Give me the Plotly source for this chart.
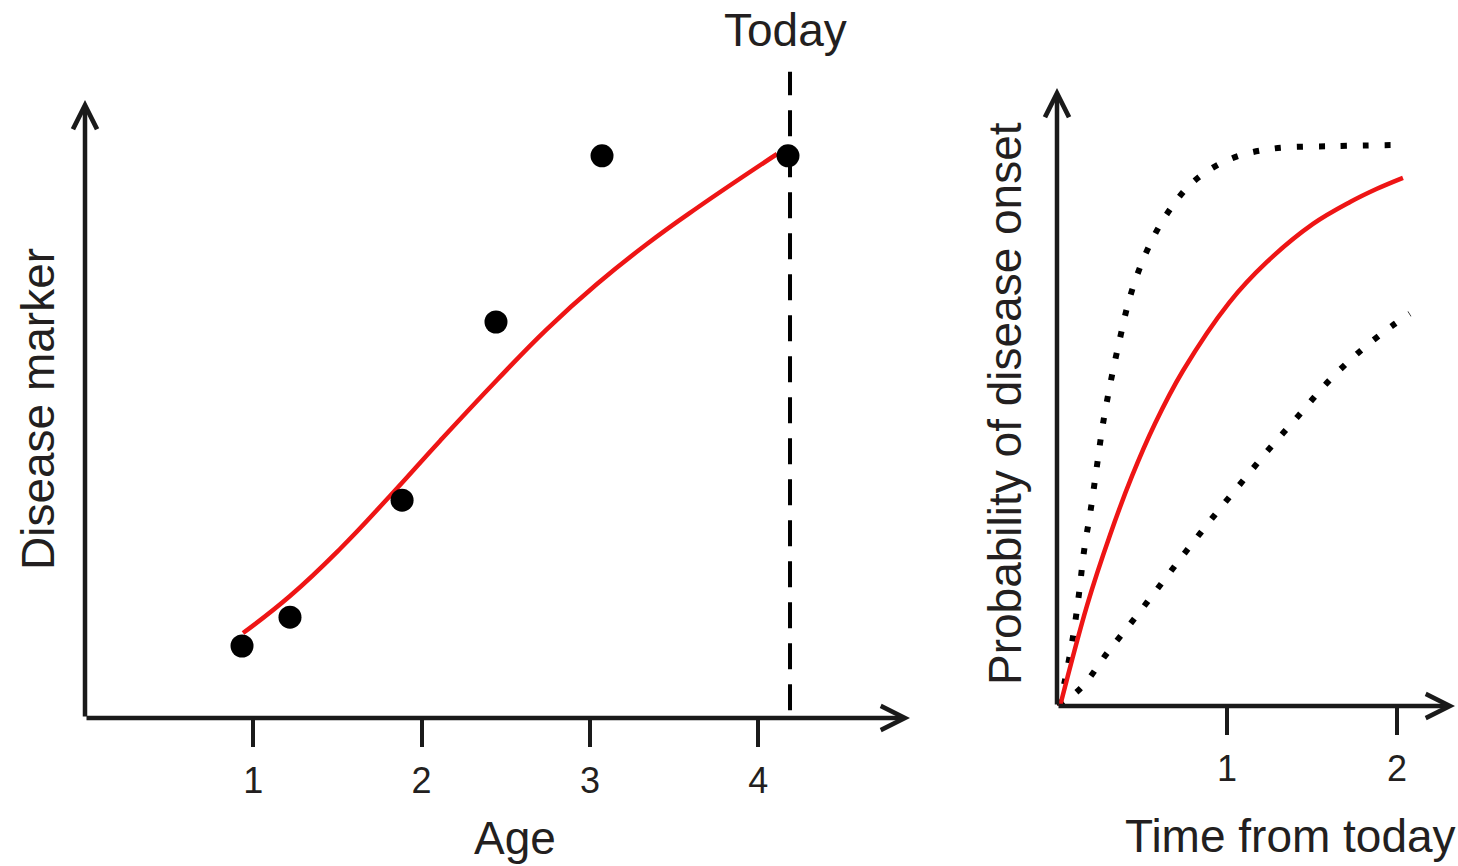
import plotly.graph_objects as go

# ---------------- data: left panel (disease marker vs age) ----------------
age_obs = [0.933, 1.218, 1.884, 2.442, 3.072, 4.177]
marker_obs = [1.20, 1.68, 3.63, 6.60, 9.37, 9.37]

fit_age = [0.939, 1.218, 1.515, 1.812, 2.109, 2.448, 2.745, 3.042, 3.339, 3.636, 4.112]
fit_marker = [1.417, 2.033, 2.817, 3.70, 4.617, 5.633, 6.483, 7.233, 7.90, 8.50, 9.40]

today_age = 4.189
today_span = [0.13, 10.77]
age_ticks = [1, 2, 3, 4]

# ---------------- data: right panel (probability of onset) ----------------
t_mid = [0.018, 0.176, 0.312, 0.441, 0.576, 0.741, 1.012, 1.235, 1.506, 1.724, 1.882, 2.035]
p_mid = [0.0, 0.174, 0.297, 0.399, 0.490, 0.582, 0.700, 0.771, 0.837, 0.875, 0.898, 0.917]

t_up = [0.012, 0.047, 0.094, 0.129, 0.159, 0.2, 0.235, 0.271, 0.318, 0.371, 0.429, 0.518,
        0.635, 0.794, 1.006, 1.253, 1.635, 2.018]
p_up = [0.0, 0.045, 0.12, 0.194, 0.269, 0.344, 0.417, 0.491, 0.566, 0.639, 0.710, 0.783,
        0.849, 0.908, 0.948, 0.967, 0.972, 0.974]

t_low = [0.012, 0.147, 0.3, 0.459, 0.618, 0.771, 0.929, 1.088, 1.253, 1.418, 1.588, 1.771, 1.971, 2.075]
p_low = [0.0, 0.033, 0.094, 0.153, 0.214, 0.273, 0.332, 0.389, 0.448, 0.503, 0.561, 0.613, 0.660, 0.681]

time_ticks = [1, 2]

# ---------------- styling ----------------
W, H = 1458, 866
INK = "#1a1a1a"
TXT = "#231f20"
RED = "#ee1515"
FONT = "Liberation Sans, Arial, sans-serif"

fig = go.Figure()

# left panel
fig.add_trace(go.Scatter(x=fit_age, y=fit_marker, mode="lines",
                         line=dict(color=RED, width=4.5, shape="spline", smoothing=1.3),
                         xaxis="x", yaxis="y", hoverinfo="skip", showlegend=False))
fig.add_trace(go.Scatter(x=[today_age, today_age], y=today_span, mode="lines",
                         line=dict(color="#000000", width=4, dash="26px,15px"),
                         xaxis="x", yaxis="y", hoverinfo="skip", showlegend=False))
fig.add_trace(go.Scatter(x=age_obs, y=marker_obs, mode="markers",
                         marker=dict(color="#000000", size=23, line=dict(width=0)),
                         xaxis="x", yaxis="y", showlegend=False, cliponaxis=False))

# right panel
fig.add_trace(go.Scatter(x=t_up, y=p_up, mode="lines", line=dict(color="#000000", width=6, dash="6px,16px", shape="spline"),
                         xaxis="x2", yaxis="y2", hoverinfo="skip", showlegend=False))
fig.add_trace(go.Scatter(x=t_low, y=p_low, mode="lines", line=dict(color="#000000", width=6, dash="6px,16px", shape="spline"),
                         xaxis="x2", yaxis="y2", hoverinfo="skip", showlegend=False))
fig.add_trace(go.Scatter(x=t_mid, y=p_mid, mode="lines", line=dict(color=RED, width=4.5, shape="spline"),
                         xaxis="x2", yaxis="y2", hoverinfo="skip", showlegend=False))

# pixel geometry -> domains/ranges
L_x0, L_x1 = 85, 930          # px of x-domain (x=0 at 85)
L_ppu_x = 168.3
L_y0, L_y1 = 718, 50           # px bottom/top of y-domain
L_ppu_y = 60.0
R_x0, R_x1 = 1057, 1458
R_ppu_x = 170.0
R_y0, R_y1 = 706, 40
R_ppu_y = 576.0

axis_common = dict(showgrid=False, zeroline=False, showline=False, fixedrange=True)
tick_common = dict(ticks="outside", ticklen=28, tickwidth=4, tickcolor=INK, ticklabelstandoff=3,
                   tickfont=dict(family=FONT, size=36, color=TXT))

fig.update_layout(
    width=W, height=H, margin=dict(l=0, r=0, t=0, b=0),
    paper_bgcolor="white", plot_bgcolor="rgba(0,0,0,0)",
    xaxis=dict(domain=[L_x0 / W, L_x1 / W], range=[0, (L_x1 - L_x0) / L_ppu_x], anchor="y",
               tickvals=age_ticks, ticktext=[str(v) for v in age_ticks], **axis_common, **tick_common),
    yaxis=dict(domain=[1 - L_y0 / H, 1 - L_y1 / H], range=[0, (L_y0 - L_y1) / L_ppu_y], anchor="x",
               showticklabels=False, ticks="", **axis_common),
    xaxis2=dict(domain=[R_x0 / W, R_x1 / W], range=[0, (R_x1 - R_x0) / R_ppu_x], anchor="y2",
                tickvals=time_ticks, ticktext=[str(v) for v in time_ticks], **axis_common, **tick_common),
    yaxis2=dict(domain=[1 - R_y0 / H, 1 - R_y1 / H], range=[0, (R_y0 - R_y1) / R_ppu_y], anchor="x2",
                showticklabels=False, ticks="", **axis_common),
)

arrow = dict(showarrow=True, text="", arrowhead=5, arrowsize=1.05, arrowwidth=4.5, arrowcolor=INK, standoff=0)
# left axes arrows
fig.add_annotation(x=(910 - L_x0) / L_ppu_x, y=0, ax=0, ay=0, xref="x", yref="y", axref="x", ayref="y", **arrow)
fig.add_annotation(x=0, y=(L_y0 - 100) / L_ppu_y, ax=0, ay=0, xref="x", yref="y", axref="x", ayref="y", **arrow)
# right axes arrows
fig.add_annotation(x=(1455 - R_x0) / R_ppu_x, y=0, ax=0, ay=0, xref="x2", yref="y2", axref="x2", ayref="y2", **arrow)
fig.add_annotation(x=0, y=(R_y0 - 88) / R_ppu_y, ax=0, ay=0, xref="x2", yref="y2", axref="x2", ayref="y2", **arrow)

title_font = dict(family=FONT, size=46, color=TXT)
fig.add_annotation(text="Age", x=515 / W, y=1 - 838 / H, xref="paper", yref="paper", showarrow=False,
                   font=title_font, xanchor="center", yanchor="middle")
fig.add_annotation(text="Disease marker", x=38 / W, y=1 - 409 / H, xref="paper", yref="paper", showarrow=False,
                   font=title_font, textangle=-90, xanchor="center", yanchor="middle")
fig.add_annotation(text="Today", x=785 / W, y=1 - 30 / H, xref="paper", yref="paper", showarrow=False,
                   font=title_font, xanchor="center", yanchor="middle")
fig.add_annotation(text="Probability of disease onset", x=1005 / W, y=1 - 404 / H, xref="paper", yref="paper",
                   showarrow=False, font=title_font, textangle=-90, xanchor="center", yanchor="middle")
fig.add_annotation(text="Time from today", x=1290 / W, y=1 - 836 / H, xref="paper", yref="paper", showarrow=False,
                   font=title_font, xanchor="center", yanchor="middle")

fig.write_html("out.html", config={"displayModeBar": False})
